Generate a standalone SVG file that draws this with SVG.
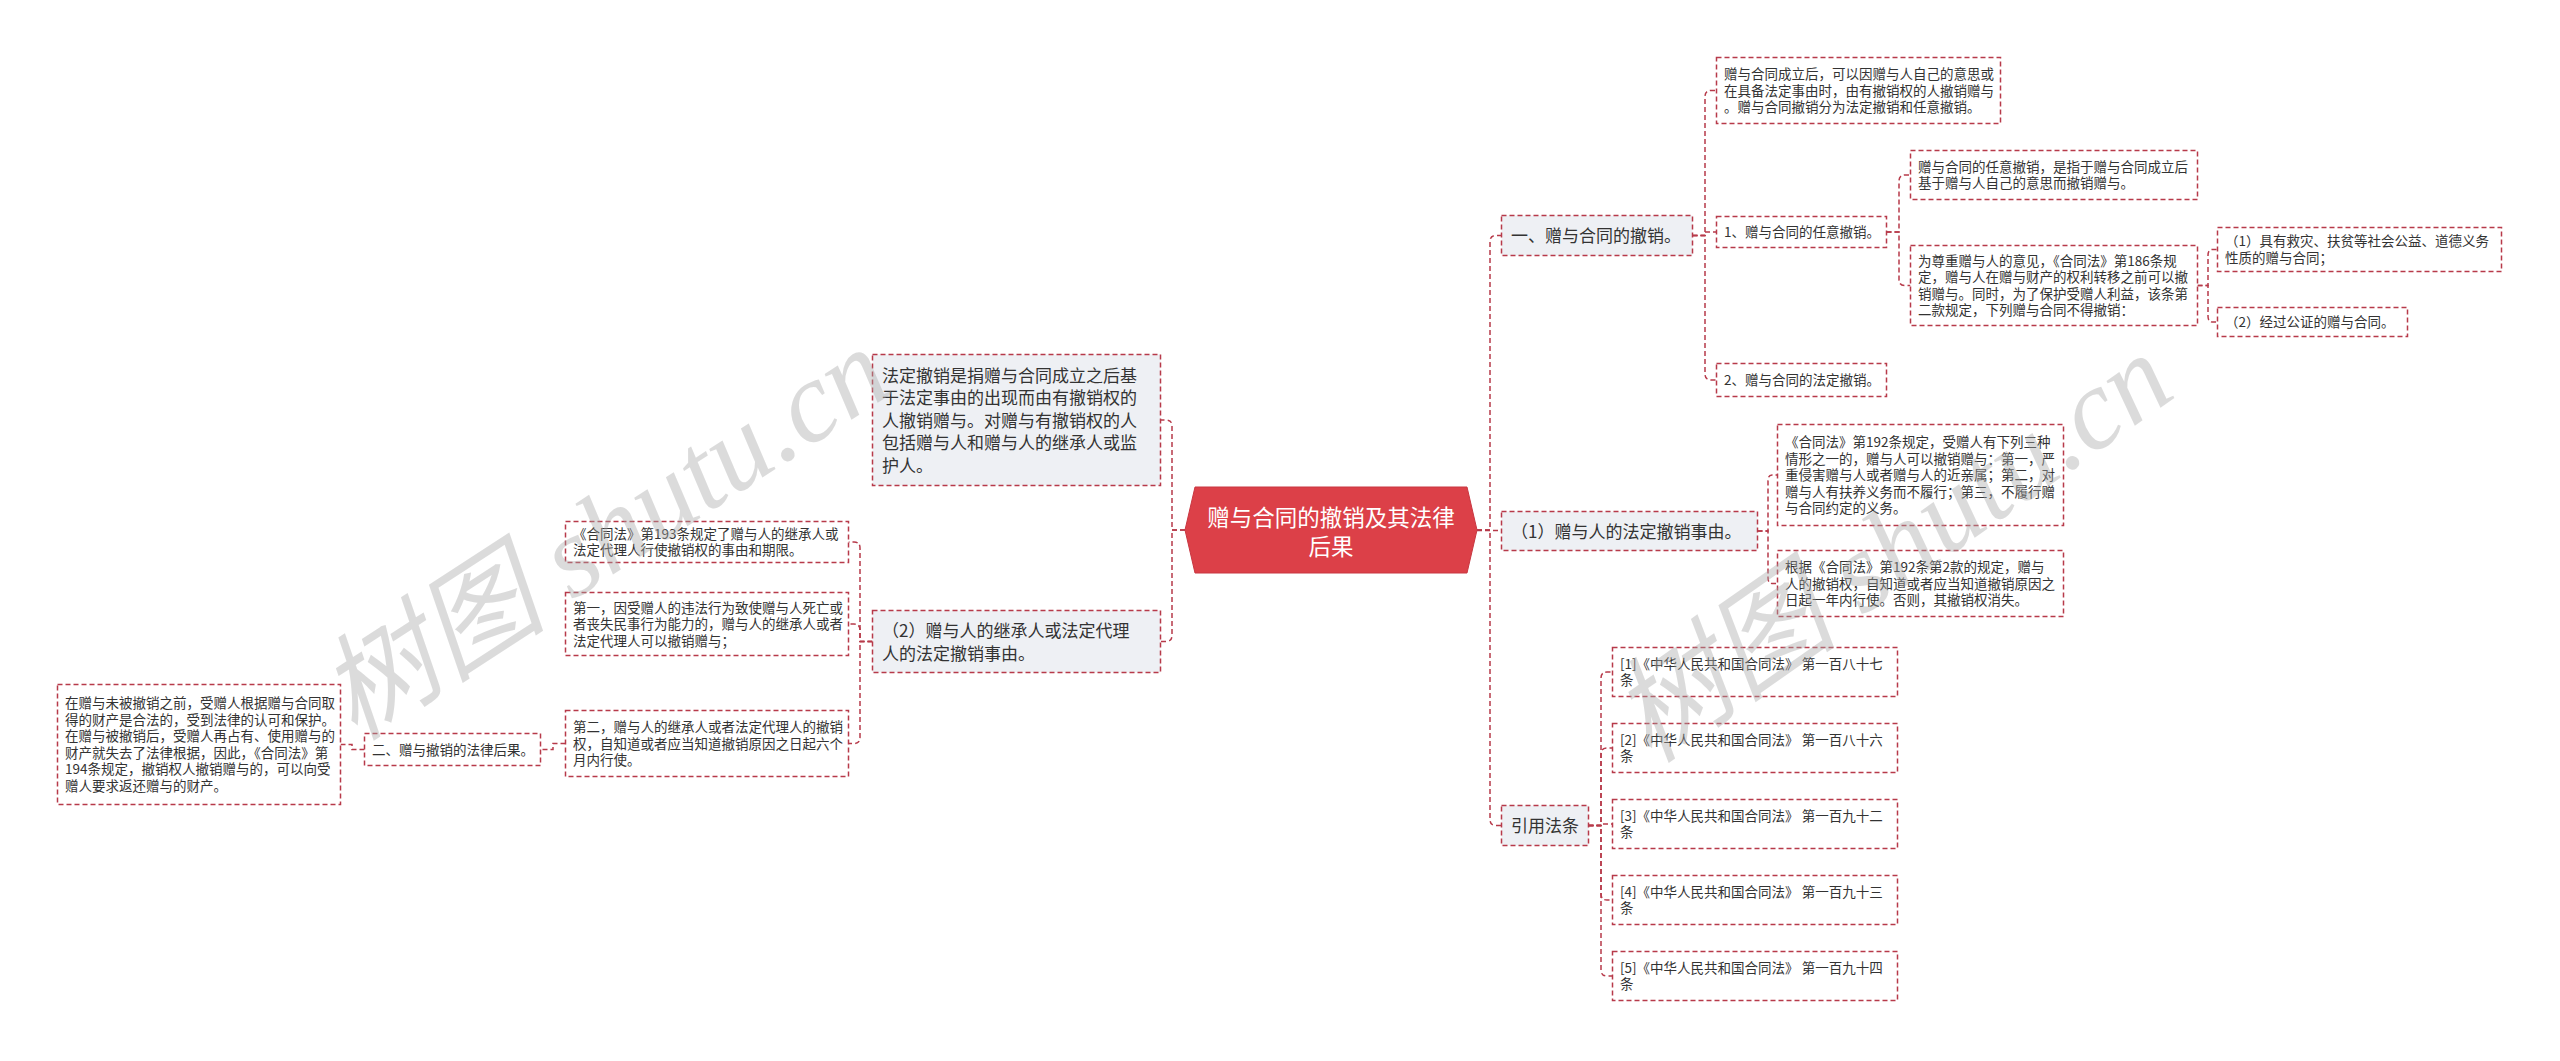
<svg xmlns="http://www.w3.org/2000/svg" width="2560" height="1061" viewBox="0 0 2560 1061">
<style>
.n rect{stroke:#b73a4a;stroke-width:1.5;stroke-dasharray:5 3}
.m rect{fill:#eef0f4}
.s rect{fill:#ffffff}
text{font-family:"Noto Sans CJK SC","Noto Sans",sans-serif;fill:#333333}
.t17{font-size:17px}
.t13{font-size:13.5px}
.c path{fill:none;stroke:#b73a4a;stroke-width:1.5;stroke-dasharray:5 3}
.wm{font-family:"Liberation Serif","Noto Sans CJK SC",serif;font-style:italic;fill:#a8a8a8;opacity:0.4}
</style>
<rect width="2560" height="1061" fill="#ffffff"/>

<g id="connectors" class="c">
<path d="M1477,530 H1490 V241.5 Q1490,235.5 1496,235.5 H1501.5"/>
<path d="M1477,530.5 H1501.5"/>
<path d="M1477,530 H1490 V819.5 Q1490,825.5 1496,825.5 H1501.5"/>
<path d="M1185,530 H1172 V426 Q1172,420 1166,420 H1160.5"/>
<path d="M1185,530 H1172 V635.5 Q1172,641.5 1166,641.5 H1160.5"/>
<path d="M872.5,641.5 H860 V548 Q860,542 854,542 H848.5"/>
<path d="M872.5,641.5 H860 V630 Q860,624 854,624 H848.5"/>
<path d="M872.5,641.5 H860 V737.5 Q860,743.5 854,743.5 H848.5"/>
<path d="M565.5,743.5 H553 V749.5 H540.5"/>
<path d="M364.5,749.5 H352 V744.5 H340.5"/>
<path d="M1692.5,235.5 H1705 V96.5 Q1705,90.5 1711,90.5 H1716.5"/>
<path d="M1692.5,235.5 H1705 V232 H1716.5"/>
<path d="M1692.5,235.5 H1705 V374 Q1705,380 1711,380 H1716.5"/>
<path d="M1886.5,232 H1899 V181 Q1899,175 1905,175 H1910.5"/>
<path d="M1886.5,232 H1899 V279.5 Q1899,285.5 1905,285.5 H1910.5"/>
<path d="M2197.5,285.5 H2208 V255.5 Q2208,249.5 2212,249.5 H2217.5"/>
<path d="M2197.5,285.5 H2208 V316 Q2208,322 2212,322 H2217.5"/>
<path d="M1757.5,531 H1768 V481 Q1768,475 1772,475 H1777.5"/>
<path d="M1757.5,531 H1768 V577.5 Q1768,583.5 1772,583.5 H1777.5"/>
<path d="M1588.5,825.5 H1601 V678 Q1601,672 1607,672 H1612.5"/>
<path d="M1588.5,825.5 H1601 V754 Q1601,748 1607,748 H1612.5"/>
<path d="M1588.5,825.5 H1601 V824 H1612.5"/>
<path d="M1588.5,825.5 H1601 V894 Q1601,900 1607,900 H1612.5"/>
<path d="M1588.5,825.5 H1601 V970 Q1601,976 1607,976 H1612.5"/>
</g>

<g id="root">
<polygon points="1185,530 1195,487 1467,487 1477,530 1467,573 1195,573" fill="#dc4048" stroke="#c83640" stroke-width="1"/>
<text x="1331" y="526" text-anchor="middle" font-size="22.5" style="fill:#ffffff">赠与合同的撤销及其法律</text>
<text x="1331" y="555" text-anchor="middle" font-size="22.5" style="fill:#ffffff">后果</text>
</g>

<g id="L1" class="n m">
<rect x="872.5" y="354.5" width="288" height="131"/>
<text class="t17"><tspan x="882" y="381.5">法定撤销是捐赠与合同成立之后基</tspan><tspan x="882" y="404">于法定事由的出现而由有撤销权的</tspan><tspan x="882" y="426.5">人撤销赠与。对赠与有撤销权的人</tspan><tspan x="882" y="449">包括赠与人和赠与人的继承人或监</tspan><tspan x="882" y="471.5">护人。</tspan></text>
</g>

<g id="L2" class="n m">
<rect x="872.5" y="610.5" width="288" height="62"/>
<text class="t17"><tspan x="882" y="637">（2）赠与人的继承人或法定代理</tspan><tspan x="882" y="659.5">人的法定撤销事由。</tspan></text>
</g>

<g id="L2a" class="n s">
<rect x="565.5" y="521.5" width="283" height="41"/>
<text class="t13"><tspan x="573" y="538.75">《合同法》第193条规定了赠与人的继承人或</tspan><tspan x="573" y="555.25">法定代理人行使撤销权的事由和期限。</tspan></text>
</g>

<g id="L2b" class="n s">
<rect x="565.5" y="592.5" width="283" height="63"/>
<text class="t13"><tspan x="573" y="612.5">第一，因受赠人的违法行为致使赠与人死亡或</tspan><tspan x="573" y="629">者丧失民事行为能力的，赠与人的继承人或者</tspan><tspan x="573" y="645.5">法定代理人可以撤销赠与；</tspan></text>
</g>

<g id="L2c" class="n s">
<rect x="565.5" y="710.5" width="283" height="66"/>
<text class="t13"><tspan x="573" y="732">第二，赠与人的继承人或者法定代理人的撤销</tspan><tspan x="573" y="748.5">权，自知道或者应当知道撤销原因之日起六个</tspan><tspan x="573" y="765">月内行使。</tspan></text>
</g>

<g id="L3" class="n s">
<rect x="364.5" y="733.5" width="176" height="32"/>
<text class="t13" x="372" y="754.5">二、赠与撤销的法律后果。</text>
</g>

<g id="L4" class="n s">
<rect x="57.5" y="684.5" width="283" height="120"/>
<text class="t13"><tspan x="65" y="708.25">在赠与未被撤销之前，受赠人根据赠与合同取</tspan><tspan x="65" y="724.75">得的财产是合法的，受到法律的认可和保护。</tspan><tspan x="65" y="741.25">在赠与被撤销后，受赠人再占有、使用赠与的</tspan><tspan x="65" y="757.75">财产就失去了法律根据，因此，《合同法》第</tspan><tspan x="65" y="774.25">194条规定，撤销权人撤销赠与的，可以向受</tspan><tspan x="65" y="790.75">赠人要求返还赠与的财产。</tspan></text>
</g>

<g id="R1" class="n m">
<rect x="1501.5" y="215.5" width="191" height="40"/>
<text class="t17" x="1511" y="242">一、赠与合同的撤销。</text>
</g>

<g id="R2" class="n m">
<rect x="1501.5" y="511.5" width="256" height="39"/>
<text class="t17" x="1511" y="537.5">（1）赠与人的法定撤销事由。</text>
</g>

<g id="R3" class="n m">
<rect x="1501.5" y="805.5" width="87" height="40"/>
<text class="t17" x="1511" y="832">引用法条</text>
</g>

<g id="T1" class="n s">
<rect x="1716.5" y="57.5" width="284" height="66"/>
<text class="t13"><tspan x="1724" y="79">赠与合同成立后，可以因赠与人自己的意思或</tspan><tspan x="1724" y="95.5">在具备法定事由时，由有撤销权的人撤销赠与</tspan><tspan x="1724" y="112">。赠与合同撤销分为法定撤销和任意撤销。</tspan></text>
</g>

<g id="T2" class="n s">
<rect x="1716.5" y="216.5" width="170" height="31"/>
<text class="t13" x="1724" y="237">1、赠与合同的任意撤销。</text>
</g>

<g id="T3" class="n s">
<rect x="1716.5" y="363.5" width="170" height="33"/>
<text class="t13" x="1724" y="385">2、赠与合同的法定撤销。</text>
</g>

<g id="U1" class="n s">
<rect x="1910.5" y="150.5" width="287" height="49"/>
<text class="t13"><tspan x="1918" y="171.75">赠与合同的任意撤销，是指于赠与合同成立后</tspan><tspan x="1918" y="188.25">基于赠与人自己的意思而撤销赠与。</tspan></text>
</g>

<g id="U2" class="n s">
<rect x="1910.5" y="245.5" width="287" height="80"/>
<text class="t13"><tspan x="1918" y="265.75">为尊重赠与人的意见，《合同法》第186条规</tspan><tspan x="1918" y="282.25">定，赠与人在赠与财产的权利转移之前可以撤</tspan><tspan x="1918" y="298.75">销赠与。同时，为了保护受赠人利益，该条第</tspan><tspan x="1918" y="315.25">二款规定，下列赠与合同不得撤销：</tspan></text>
</g>

<g id="V1" class="n s">
<rect x="2217.5" y="227.5" width="284" height="44"/>
<text class="t13"><tspan x="2225" y="246.25">（1）具有救灾、扶贫等社会公益、道德义务</tspan><tspan x="2225" y="262.75">性质的赠与合同；</tspan></text>
</g>

<g id="V2" class="n s">
<rect x="2217.5" y="307.5" width="190" height="29"/>
<text class="t13" x="2225" y="327">（2）经过公证的赠与合同。</text>
</g>

<g id="W1" class="n s">
<rect x="1777.5" y="424.5" width="286" height="101"/>
<text class="t13"><tspan x="1785" y="447">《合同法》第192条规定，受赠人有下列三种</tspan><tspan x="1785" y="463.5">情形之一的，赠与人可以撤销赠与：第一，严</tspan><tspan x="1785" y="480">重侵害赠与人或者赠与人的近亲属；第二，对</tspan><tspan x="1785" y="496.5">赠与人有扶养义务而不履行；第三，不履行赠</tspan><tspan x="1785" y="513">与合同约定的义务。</tspan></text>
</g>

<g id="W2" class="n s">
<rect x="1777.5" y="550.5" width="286" height="66"/>
<text class="t13"><tspan x="1785" y="572">根据《合同法》第192条第2款的规定，赠与</tspan><tspan x="1785" y="588.5">人的撤销权，自知道或者应当知道撤销原因之</tspan><tspan x="1785" y="605">日起一年内行使。否则，其撤销权消失。</tspan></text>
</g>

<g id="C1" class="n s">
<rect x="1612.5" y="647.5" width="285" height="49"/>
<text class="t13"><tspan x="1620" y="668.75">[1]《中华人民共和国合同法》 第一百八十七</tspan><tspan x="1620" y="685.25">条</tspan></text>
</g>
<g id="C2" class="n s">
<rect x="1612.5" y="723.5" width="285" height="49"/>
<text class="t13"><tspan x="1620" y="744.75">[2]《中华人民共和国合同法》 第一百八十六</tspan><tspan x="1620" y="761.25">条</tspan></text>
</g>
<g id="C3" class="n s">
<rect x="1612.5" y="799.5" width="285" height="49"/>
<text class="t13"><tspan x="1620" y="820.75">[3]《中华人民共和国合同法》 第一百九十二</tspan><tspan x="1620" y="837.25">条</tspan></text>
</g>
<g id="C4" class="n s">
<rect x="1612.5" y="875.5" width="285" height="49"/>
<text class="t13"><tspan x="1620" y="896.75">[4]《中华人民共和国合同法》 第一百九十三</tspan><tspan x="1620" y="913.25">条</tspan></text>
</g>
<g id="C5" class="n s">
<rect x="1612.5" y="951.5" width="285" height="49"/>
<text class="t13"><tspan x="1620" y="972.75">[5]《中华人民共和国合同法》 第一百九十四</tspan><tspan x="1620" y="989.25">条</tspan></text>
</g>

<g id="watermark">
<text class="wm" x="355" y="742" font-size="115" transform="rotate(-33 355 742)">树图 shutu.cn</text>
<text class="wm" x="1650" y="765" font-size="115" transform="rotate(-35 1650 765)">树图 shutu.cn</text>
</g>
</svg>
